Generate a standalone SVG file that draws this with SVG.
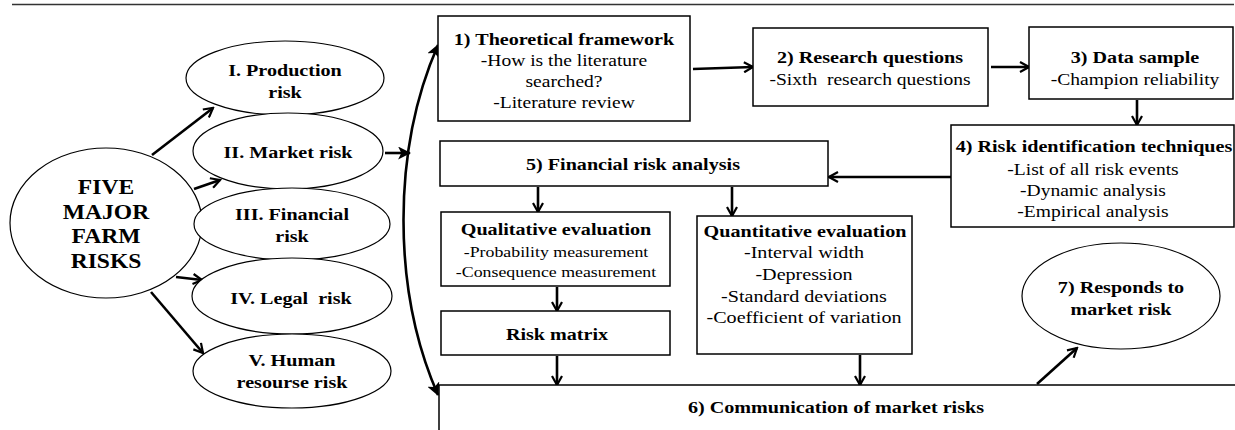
<svg xmlns="http://www.w3.org/2000/svg" width="1235" height="430" viewBox="0 0 1235 430" font-family="Liberation Serif, serif">
<defs>
<style>
text{font-family:'Liberation Serif',serif;fill:#000;text-anchor:middle;white-space:pre}
.b{font-weight:bold;font-size:17.5px}
.big{font-weight:bold;font-size:20.5px}
.t{font-size:17px}
.s{font-size:15.5px}
.q{font-size:17.5px}
.shape{fill:#fff;stroke:#000;stroke-width:1.5}
.ell{fill:#fff;stroke:#000;stroke-width:1.2}
.c{fill:none;stroke:#000;stroke-width:2.6;marker-end:url(#open)}
.cf{fill:none;stroke:#000;stroke-width:2.6;marker-end:url(#fill)}
</style>
<marker id="open" viewBox="0 0 12 12" refX="10" refY="6" markerWidth="12" markerHeight="12" markerUnits="userSpaceOnUse" orient="auto">
<path d="M1,1 L10,6 L1,11" fill="none" stroke="#000" stroke-width="2.2"/>
</marker>
<marker id="fill" viewBox="0 0 12 12" refX="11" refY="6" markerWidth="13" markerHeight="13" markerUnits="userSpaceOnUse" orient="auto-start-reverse">
<path d="M0,0 L12,6 L0,12 L3,6 Z" fill="#000"/>
</marker>
</defs>
<rect width="1235" height="430" fill="#fff"/>
<path d="M12,4.5 H1234" stroke="#333" stroke-width="1.6"/>

<g id="connectors">
<path class="c" d="M152,155 L213,108"/>
<path class="c" d="M194,189 L220,180"/>
<path class="c" d="M189,227 L202,226"/>
<path class="c" d="M176,277 L202,280"/>
<path class="c" d="M151,292 L203,353"/>
<path class="cf" d="M385,153 L410,153"/>
<path d="M438,45 C392,150 392,290 438,395" fill="none" stroke="#000" stroke-width="2.6" marker-start="url(#fill)" marker-end="url(#fill)"/>
<path class="c" d="M693,69 L753,67"/>
<path class="c" d="M991,67 L1029,67"/>
<path class="c" d="M1137,100 L1137,125"/>
<path class="c" d="M951,177 L829,177"/>
<path class="c" d="M538,187 L538,212"/>
<path class="c" d="M732,187 L732,216"/>
<path class="c" d="M557,287 L557,311"/>
<path class="c" d="M557,356 L557,385"/>
<path class="c" d="M860,355 L860,385"/>
<path class="c" d="M1037,384 L1077,348"/>
</g>

<g id="five-risks">
<ellipse class="ell" cx="106" cy="223" rx="96" ry="75"/>
<text class="big" transform="translate(106,194) scale(1.15,1)">FIVE</text>
<text class="big" transform="translate(106,219) scale(1.15,1)">MAJOR</text>
<text class="big" transform="translate(106,243) scale(1.15,1)">FARM</text>
<text class="big" transform="translate(106,268) scale(1.15,1)">RISKS</text>
</g>
<g id="production-risk">
<ellipse class="ell" cx="285" cy="78" rx="99" ry="37"/>
<text class="b" transform="translate(285,76) scale(1.15,1)">I. Production</text>
<text class="b" transform="translate(285,98) scale(1.15,1)">risk</text>
</g>
<g id="market-risk">
<ellipse class="ell" cx="288" cy="151" rx="95" ry="38"/>
<text class="b" transform="translate(288,158) scale(1.15,1)">II. Market risk</text>
</g>
<g id="financial-risk">
<ellipse class="ell" cx="292" cy="224" rx="98" ry="36"/>
<text class="b" transform="translate(292,220) scale(1.15,1)">III. Financial</text>
<text class="b" transform="translate(292,242) scale(1.15,1)">risk</text>
</g>
<g id="legal-risk">
<ellipse class="ell" cx="292" cy="296" rx="100" ry="38"/>
<text class="b" transform="translate(291,304) scale(1.15,1)" xml:space="preserve">IV. Legal  risk</text>
</g>
<g id="human-risk">
<ellipse class="ell" cx="292" cy="371" rx="99" ry="37"/>
<text class="b" transform="translate(292,366) scale(1.15,1)">V. Human</text>
<text class="b" transform="translate(292,388) scale(1.15,1)">resourse risk</text>
</g>

<g id="theoretical-framework">
<rect class="shape" x="438" y="16" width="252" height="105"/>
<text class="b" transform="translate(564,45) scale(1.15,1)">1) Theoretical framework</text>
<text class="t" transform="translate(564,66) scale(1.15,1)">-How is the literature</text>
<text class="t" transform="translate(564,87) scale(1.15,1)">searched?</text>
<text class="t" transform="translate(564,108) scale(1.15,1)">-Literature review</text>
</g>
<g id="research-questions">
<rect class="shape" x="753" y="28" width="235" height="78"/>
<text class="b" transform="translate(870,63) scale(1.15,1)">2) Research questions</text>
<text class="t" transform="translate(870,85) scale(1.15,1)" xml:space="preserve">-Sixth  research questions</text>
</g>
<g id="data-sample">
<rect class="shape" x="1029" y="27" width="204" height="72"/>
<text class="b" transform="translate(1135,63) scale(1.15,1)">3) Data sample</text>
<text class="t" transform="translate(1135,85) scale(1.15,1)">-Champion reliability</text>
</g>
<g id="risk-identification">
<rect class="shape" x="951" y="125" width="283" height="102"/>
<text class="b" transform="translate(1094,152) scale(1.15,1)">4) Risk identification techniques</text>
<text class="t" transform="translate(1093,175) scale(1.15,1)">-List of all risk events</text>
<text class="t" transform="translate(1093,196) scale(1.15,1)">-Dynamic analysis</text>
<text class="t" transform="translate(1093,217) scale(1.15,1)">-Empirical analysis</text>
</g>
<g id="financial-risk-analysis">
<rect class="shape" x="440" y="141" width="388" height="45"/>
<text class="b" transform="translate(633,170) scale(1.15,1)">5) Financial risk analysis</text>
</g>
<g id="qualitative-evaluation">
<rect class="shape" x="441" y="212" width="229" height="74"/>
<text class="b" transform="translate(556,235) scale(1.15,1)">Qualitative evaluation</text>
<text class="s" transform="translate(556,257) scale(1.15,1)">-Probability measurement</text>
<text class="s" transform="translate(556,277) scale(1.15,1)">-Consequence measurement</text>
</g>
<g id="risk-matrix">
<rect class="shape" x="441" y="311" width="229" height="44"/>
<text class="b" transform="translate(557,340) scale(1.15,1)">Risk matrix</text>
</g>
<g id="quantitative-evaluation">
<rect class="shape" x="697" y="216" width="215" height="138"/>
<text class="b" transform="translate(805,237) scale(1.15,1)">Quantitative evaluation</text>
<text class="q" transform="translate(804,258) scale(1.15,1)">-Interval width</text>
<text class="q" transform="translate(804,280) scale(1.15,1)">-Depression</text>
<text class="q" transform="translate(804,302) scale(1.15,1)">-Standard deviations</text>
<text class="q" transform="translate(804,323) scale(1.15,1)">-Coefficient of variation</text>
</g>
<g id="communication">
<rect class="shape" x="439" y="385" width="820" height="60"/>
<text class="b" transform="translate(836,413) scale(1.15,1)">6) Communication of market risks</text>
</g>
<g id="responds">
<ellipse class="ell" cx="1121" cy="296" rx="99" ry="53"/>
<text class="b" transform="translate(1121,293) scale(1.15,1)">7) Responds to</text>
<text class="b" transform="translate(1121,315) scale(1.15,1)">market risk</text>
</g>
</svg>
